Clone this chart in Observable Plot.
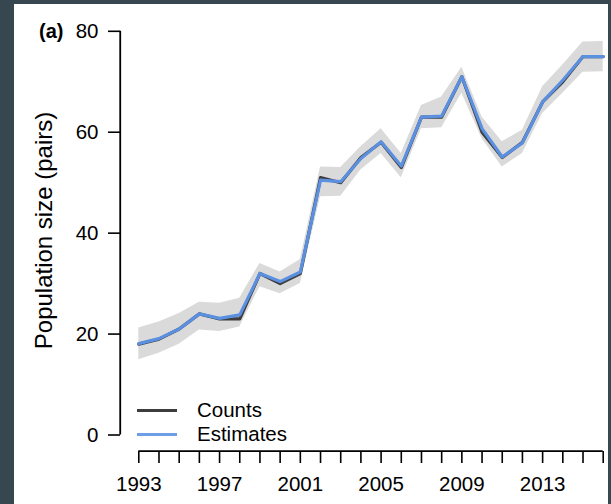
<!DOCTYPE html>
<html>
<head>
<meta charset="utf-8">
<script src="https://cdn.jsdelivr.net/npm/d3@7"></script>
<script src="https://cdn.jsdelivr.net/npm/@observablehq/plot@0.6"></script>
<style>
  html, body { margin: 0; padding: 0; }
  body { width: 611px; height: 504px; background: #37474f; position: relative; overflow: hidden;
         font-family: "Liberation Sans", Arial, sans-serif; }
  #panel { position: absolute; left: 14px; top: 4px; width: 594px; height: 500px; background: #fff; }
  #chart { position: absolute; left: 0; top: 0; }
  #tag { position: absolute; left: 39px; top: 19px; font-size: 20px; font-weight: bold; line-height: 24px; color: #000; }
  .leg { position: absolute; left: 137px; height: 24px; width: 200px; }
  .leg .sw { position: absolute; left: 0; top: 10.5px; width: 40px; height: 3px; }
  .leg .lb { position: absolute; left: 60px; top: 0; font-size: 20.5px; line-height: 24px; color: #000; }
</style>
</head>
<body>
<div id="panel"></div>
<div id="chart"></div>
<div id="tag">(a)</div>
<div id="legend"></div>
<script>
// ---- data ----
const years = [1993,1994,1995,1996,1997,1998,1999,2000,2001,2002,2003,2004,2005,2006,2007,2008,2009,2010,2011,2012,2013,2014,2015,2016];
const counts = [18,19,21,24,23,23,32,30,32,51,50,55,58,53,63,63,71,60,55,58,66,70,75,75];
const estimates = [18.1,19.1,21,24,23.1,23.8,32,30.4,32.3,50.5,50.2,54.8,58.1,53.3,63,63.2,71,60.7,55.1,57.9,66,70.3,75,75];
const lower = [14.9,16.2,18,20.8,20.5,21.4,29.4,28,30,47.2,47.3,52.5,55.8,51,60.7,60.9,67.7,58.7,53.1,55.8,63.7,67.7,71.9,72];
const upper = [21.2,22.4,24.1,26.3,26.1,27.1,34,32.3,34.8,53.1,53,57.1,60.7,55.8,65.3,67,72.9,63,58.1,60.4,69,73.3,77.9,78];
const yTicks = [0,20,40,60,80];
const xLabelYears = [1993,1997,2001,2005,2009,2013];
const yLabel = "Population size (pairs)";
const seriesNames = ["Counts","Estimates"];
const seriesColors = ["#3d3d3d","#5b8fe0"];

const rows = years.map((y,i) => ({year: y, count: counts[i], estimate: estimates[i], lower: lower[i], upper: upper[i]}));

// R-style 4% axis padding
const xEdge = years[0] - 0.04 * (years[years.length-1] - years[0]);
const yEdge = yTicks[0] - 0.04 * (yTicks[yTicks.length-1] - yTicks[0]);

const chart = Plot.plot({
  width: 611,
  height: 504,
  marginLeft: 120,
  marginRight: 0,
  marginTop: 15,
  marginBottom: 53,
  style: {background: "transparent", fontFamily: "'Liberation Sans', Arial, sans-serif", fontSize: "20px", color: "#000"},
  x: {domain: [years[0], years[years.length-1]], range: [138.3, 602.7]},
  y: {domain: [yTicks[0], yTicks[yTicks.length-1]], range: [434.5, 30.8]},
  marks: [
    Plot.areaY(rows, {x: "year", y1: "lower", y2: "upper", fill: "#dadada"}),
    Plot.line(rows, {x: "year", y: "count", stroke: seriesColors[0], strokeWidth: 3.2}),
    Plot.line(rows, {x: "year", y: "estimate", stroke: seriesColors[1], strokeWidth: 3.2}),
    Plot.axisY({ticks: yTicks, tickSize: 12, tickPadding: 10, fontSize: 20.5, strokeWidth: 1.6, label: null}),
    Plot.text([yLabel], {text: d => d, frameAnchor: "left", textAnchor: "middle", lineAnchor: "middle",
                         rotate: -90, dx: -76, dy: -3, fontSize: 24, fill: "#000"}),
    Plot.axisX({ticks: years, tickSize: 12, tickPadding: 13, fontSize: 20.5, strokeWidth: 1.6,
                tickFormat: d => xLabelYears.includes(d) ? String(d) : "", label: null}),
    Plot.ruleX([xEdge], {x: d => d, y1: yTicks[0], y2: yTicks[yTicks.length-1], strokeWidth: 1.8, stroke: "#000"}),
    Plot.ruleY([yEdge], {y: d => d, x1: years[0], x2: years[years.length-1], strokeWidth: 1.8, stroke: "#000"})
  ]
});
document.getElementById("chart").appendChild(chart);

// legend
const leg = document.getElementById("legend");
const legTops = [398, 422];
seriesNames.forEach((n, i) => {
  const d = document.createElement("div");
  d.className = "leg";
  d.style.top = legTops[i] + "px";
  d.innerHTML = `<div class="sw" style="background:${i===1 ? '#6d9ee6' : seriesColors[0]}"></div><div class="lb">${n}</div>`;
  leg.appendChild(d);
});
</script>
</body>
</html>
